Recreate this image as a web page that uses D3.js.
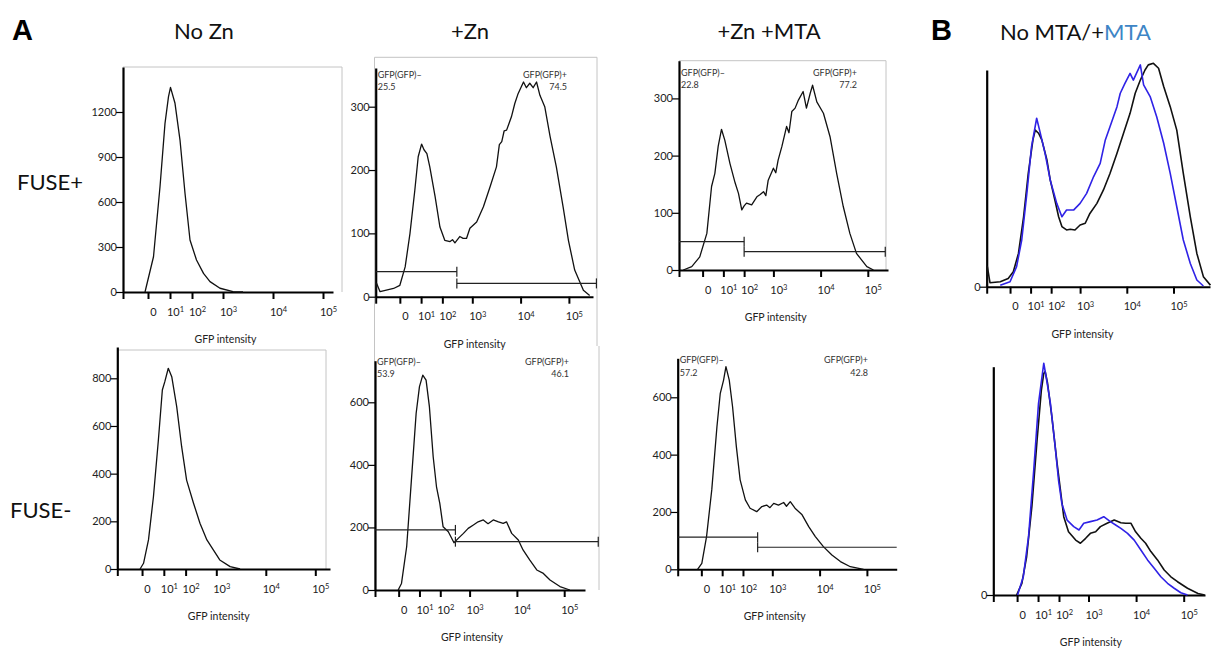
<!DOCTYPE html>
<html><head><meta charset="utf-8">
<script src="https://cdnjs.cloudflare.com/ajax/libs/d3/7.8.5/d3.min.js"></script>
<style>body{margin:0;background:#fff}svg{display:block}</style>
</head><body>
<svg id="c" width="1211" height="648"></svg>
<script>
// ---------- data ----------
const tickPositions = [0, 0.5, 0.94, 1.38, 2, 3, 4];        // display units (biexponential)
const tickLabels = ["", "0", "10¹", "10²", "10³", "10⁴", "10⁵"];
const columnTitles = ["No Zn", "+Zn", "+Zn +MTA"];
const rowLabels = ["FUSE+", "FUSE-"];
const panelLetters = ["A", "B"];
const titleB = ["No MTA/+", "MTA"];
const axisTitle = "GFP intensity";
const gateNames = ["GFP(GFP)\u2013", "GFP(GFP)+"];

// [display unit, count]
const fusePlusNoZn = [[0.44,0],[0.61,235],[0.74,702],[0.84,1124],[0.91,1302],[0.95,1364],[1.04,1258],[1.14,1013],[1.24,658],[1.34,347],[1.47,213],[1.61,124],[1.74,69],[1.94,25],[2.2,2],[2.4,0]];
const fusePlusZn = [[0,10],[0.02,21],[0.09,8],[0.37,13],[0.5,18],[0.61,47],[0.71,100],[0.81,168],[0.88,221],[0.95,241],[1.0,232],[1.06,226],[1.12,205],[1.23,158],[1.33,110],[1.43,89],[1.54,87],[1.59,90],[1.64,85],[1.74,95],[1.81,92],[1.88,92],[1.95,108],[2.09,118],[2.23,142],[2.37,174],[2.5,205],[2.56,240],[2.61,245],[2.66,262],[2.71,263],[2.81,284],[2.88,305],[2.95,321],[3.06,339],[3.12,330],[3.19,337],[3.26,330],[3.33,339],[3.4,318],[3.5,300],[3.61,253],[3.74,205],[3.88,142],[3.99,89],[4.12,42],[4.3,10],[4.43,2]];
const fusePlusZnMta = [[0.09,0],[0.27,6],[0.44,23],[0.59,64],[0.69,146],[0.76,169],[0.83,216],[0.9,246],[0.97,227],[1.08,186],[1.19,152],[1.26,134],[1.33,105],[1.38,112],[1.43,117],[1.54,114],[1.65,128],[1.72,132],[1.79,137],[1.84,130],[1.89,157],[2.0,178],[2.05,170],[2.1,192],[2.18,216],[2.28,251],[2.33,240],[2.39,277],[2.46,283],[2.53,297],[2.63,312],[2.7,283],[2.78,309],[2.83,323],[2.92,294],[3.06,274],[3.2,233],[3.34,169],[3.48,111],[3.62,64],[3.76,29],[3.98,6],[4.12,0]];
const fuseMinusNoZn = [[0.46,0],[0.53,24],[0.63,122],[0.73,303],[0.83,541],[0.91,751],[0.96,786],[1.03,842],[1.1,807],[1.2,681],[1.3,513],[1.4,373],[1.54,276],[1.67,192],[1.81,122],[1.94,80],[2.07,38],[2.28,10],[2.48,0]];
const fuseMinusZn = [[0.49,0],[0.56,21],[0.67,139],[0.77,352],[0.87,565],[0.94,650],[1.01,687],[1.08,671],[1.15,586],[1.23,426],[1.3,330],[1.37,277],[1.44,202],[1.55,186],[1.67,151],[1.76,165],[1.87,181],[1.97,197],[2.08,208],[2.18,218],[2.29,224],[2.39,212],[2.5,224],[2.61,218],[2.71,213],[2.78,218],[2.89,181],[3.03,160],[3.13,128],[3.27,96],[3.42,64],[3.56,53],[3.7,32],[3.91,11],[4.12,0]];
const fuseMinusZnMta = [[0.42,0],[0.51,21],[0.61,114],[0.72,277],[0.83,498],[0.9,614],[0.97,660],[1.02,707],[1.09,660],[1.16,567],[1.24,428],[1.32,312],[1.43,242],[1.53,213],[1.67,201],[1.78,219],[1.88,224],[1.95,215],[2.03,230],[2.13,224],[2.24,233],[2.3,220],[2.38,236],[2.48,213],[2.63,190],[2.77,149],[2.91,114],[3.08,79],[3.26,50],[3.44,27],[3.65,9],[3.93,0]];
// panel B (normalised to mode, %)
const bTopNoMta = [[0,0],[0.014,9],[0.07,1.8],[0.29,2.2],[0.46,3.7],[0.57,6.7],[0.68,14.9],[0.79,31.3],[0.89,50.7],[0.99,65.7],[1.04,70.1],[1.11,68.7],[1.18,65.7],[1.29,56.7],[1.36,47.8],[1.46,38.8],[1.54,31.3],[1.61,26.9],[1.71,25.4],[1.79,25.7],[1.89,25.4],[2.0,27.6],[2.11,28.4],[2.21,32.8],[2.36,37.3],[2.5,43.3],[2.64,50.7],[2.79,59.7],[2.93,68.7],[3.07,77.6],[3.18,86.6],[3.29,92.5],[3.39,97],[3.46,99.3],[3.57,100],[3.68,97.8],[3.79,89.6],[3.93,80.6],[4.07,70.1],[4.21,50.7],[4.36,31.3],[4.5,14.9],[4.64,4.5],[4.79,0.7]];
const bTopMta = [[0.29,0.7],[0.5,2.2],[0.64,9],[0.75,20.9],[0.86,41.8],[0.96,62.7],[1.07,75.4],[1.14,69.4],[1.25,59.7],[1.36,47.8],[1.5,37.3],[1.61,31.3],[1.71,34.3],[1.86,34.3],[2.0,37.3],[2.14,41.8],[2.29,49.3],[2.43,55.2],[2.54,65.7],[2.64,71.6],[2.79,80.6],[2.86,86.6],[2.96,91],[3.07,95.5],[3.14,92.5],[3.29,99.3],[3.36,90.3],[3.5,85.1],[3.64,76.1],[3.79,64.2],[3.93,50.7],[4.07,35.8],[4.21,20.9],[4.36,10.4],[4.5,3],[4.64,0.3]];
const bBottomNoMta = [[0.49,0],[0.6,5.2],[0.7,17],[0.81,39.3],[0.92,68.9],[1.01,91.1],[1.06,98.5],[1.09,99.3],[1.14,94.1],[1.23,79.3],[1.34,58.5],[1.41,46.7],[1.48,34.8],[1.58,28.1],[1.73,24.4],[1.83,23],[1.94,25.2],[2.04,27.4],[2.15,28.1],[2.25,30.4],[2.39,31.9],[2.54,33.3],[2.68,32.1],[2.78,31.9],[2.89,31.9],[2.99,28.1],[3.1,25.2],[3.2,23],[3.31,19.3],[3.45,15.6],[3.59,11.1],[3.73,8.1],[3.87,5.9],[4.08,3],[4.3,0.7],[4.44,0]];
const bBottomMta = [[0.51,0],[0.63,8.1],[0.74,25.9],[0.85,55.6],[0.95,85.2],[1.06,103],[1.11,97],[1.2,85.2],[1.3,65.9],[1.37,51.1],[1.44,40.7],[1.55,33.3],[1.69,30.4],[1.8,28.9],[1.9,31.9],[2.04,32.6],[2.18,33.3],[2.32,34.8],[2.46,32.6],[2.57,31.1],[2.68,29.6],[2.82,27.4],[2.96,24.4],[3.1,20],[3.24,15.6],[3.38,11.9],[3.52,8.1],[3.66,5.2],[3.8,3],[3.94,1],[4.08,0]];

// gates: [split (display units), right end, left-gate level, right-gate level]
const gatesZn = [1.68, 4.57, 39.5, 21];
const gatesZnMta = [1.38, 4.37, 49.5, 32];
const gatesMinusZn = [1.7, 4.72, 192, 154.5];
const gatesMinusZnMta = [1.69, 4.63, 112, 77];
const gatePercents = {p2:["25.5","74.5"], p3:["22.8","77.2"], p6:["53.9","46.1"], p7:["57.2","42.8"]};

// ---------- layout ----------
const BLUE = "#2f22e6";
const panels = [
  {id:"p1", x0:123, dec:50, xEnd:333, base:292, yRef:[1200,112], top:67, yTicks:[0,300,600,900,1200], frame:[123,67,342,292,"tr"], series:[[fusePlusNoZn,"#111"]]},
  {id:"p2", x0:375.7, dec:48.3, xEnd:593, base:296.7, yRef:[300,106.7], top:68, yTicks:[0,100,200,300], frame:[374.5,57.3,597,346,"tlr"], series:[[fusePlusZn,"#111"]], gates:gatesZn, lab:[75,87,567]},
  {id:"p3", x0:679, dec:47.2, xEnd:888, base:270, yRef:[300,98.4], top:60.7, yTicks:[0,100,200,300], frame:[679,60.7,886,270,"tr"], series:[[fusePlusZnMta,"#111"]], gates:gatesZnMta, lab:[73,85,857]},
  {id:"p4", x0:986.7, dec:46.7, xEnd:1210, base:286.7, yRef:[100,63.3], top:70, yTicks:[0], series:[[bTopNoMta,"#111"],[bTopMta,BLUE]], wide:true},
  {id:"p5", x0:117.3, dec:49.5, xEnd:330, base:569, yRef:[800,378.3], top:347, yTicks:[0,200,400,600,800], frame:[117.3,350,326,569,"tr"], series:[[fuseMinusNoZn,"#111"]]},
  {id:"p6", x0:375, dec:47.3, xEnd:585, base:590, yRef:[600,402.3], top:360.7, yTicks:[0,200,400,600], frame:[374.5,346,599,590,"lr"], series:[[fuseMinusZn,"#111"]], gates:gatesMinusZn, lab:[362,374,569]},
  {id:"p7", x0:677.7, dec:47.3, xEnd:896.7, base:569.3, yRef:[600,397.3], top:358.3, yTicks:[0,200,400,600], series:[[fuseMinusZnMta,"#111"]], gates:gatesMinusZnMta, lab:[360,373,868], openEnd:true},
  {id:"p8", x0:993.3, dec:47.6, xEnd:1205, base:595, yRef:[100,370], top:366.7, yTicks:[0], series:[[bBottomNoMta,"#111"],[bBottomMta,BLUE]], wide:true}
];

const svg = d3.select("#c");
const FONT = "Lato, 'Open Sans', 'Noto Sans', sans-serif";
const supDigits = {"¹":"1","²":"2","³":"3","⁴":"4","⁵":"5"};

panels.forEach(p => {
  const g = svg.append("g");
  const x = d3.scaleLinear().domain([0, (p.xEnd - p.x0) / p.dec]).range([p.x0, p.xEnd]);
  const ppu = (p.base - p.yRef[1]) / p.yRef[0];
  const y = d3.scaleLinear().domain([0, (p.base - p.top) / ppu]).range([p.base, p.top]);

  if (p.frame) {
    const [l,t,r,b,sides] = p.frame;
    const segs = {t:[l,t,r,t], l:[l,t,l,b], r:[r,t,r,b], b:[l,b,r,b]};
    sides.split("").forEach(s => {
      const [x1,y1,x2,y2] = segs[s];
      g.append("line").attr("x1",x1).attr("y1",y1).attr("x2",x2).attr("y2",y2)
        .attr("stroke","#c4c4c4").attr("stroke-width",1);
    });
  }

  // x axis
  const xa = g.append("g").attr("transform", `translate(0,${p.base})`)
    .call(d3.axisBottom(x).tickValues(tickPositions).tickFormat((d, i) => tickLabels[i])
      .tickSize(7).tickSizeOuter(0).tickPadding(9));
  xa.select(".domain").attr("stroke", "#000").attr("stroke-width", 2);
  xa.selectAll(".tick line").attr("stroke", "#000").attr("stroke-width", 2);
  xa.selectAll(".tick text").attr("font-family", FONT).attr("font-size", 11).attr("fill", "#222").attr("dx", 5)
    .each(function() {
      const s = d3.select(this), txt = s.text();
      const m = txt.match(/^10(.)$/);
      if (m) {
        s.text("");
        s.append("tspan").text("10");
        s.append("tspan").attr("font-size", 7.5).attr("dy", "-0.45em").text(supDigits[m[1]]);
      }
    });

  // y axis
  const ya = g.append("g").attr("transform", `translate(${p.x0},0)`)
    .call(d3.axisLeft(y).tickValues(p.yTicks).tickFormat(d3.format("d")).tickSize(7).tickSizeOuter(0).tickPadding(-1));
  ya.select(".domain").attr("stroke", "#000").attr("stroke-width", 2.2);
  ya.selectAll(".tick line").attr("stroke", "#000").attr("stroke-width", 1.2);
  ya.selectAll(".tick text").attr("font-family", FONT).attr("font-size", 11).attr("fill", "#222");

  // axis title
  g.append("text").attr("x", x(2.05)).attr("y", p.base + 51).attr("text-anchor", "middle")
    .attr("font-family", FONT).attr("font-size", 10.5).attr("fill", "#222").text(axisTitle);

  // curves
  const line = d3.line().x(d => x(d[0])).y(d => y(d[1]));
  p.series.forEach(([data, col]) => {
    g.append("path").datum(data).attr("d", line).attr("fill", "none")
      .attr("stroke", col).attr("stroke-width", p.wide ? 1.6 : 1.3).attr("stroke-linejoin", "round");
  });

  // gates
  if (p.gates) {
    const [split, end, lv, rv] = p.gates;
    const gs = [[0, split, lv], [split, end, rv]];
    gs.forEach(([a, b, v], i) => {
      g.append("line").attr("x1", x(a)).attr("x2", x(b)).attr("y1", y(v)).attr("y2", y(v))
        .attr("stroke", "#222").attr("stroke-width", 1.2);
      [a, b].forEach((c, j) => {
        if (i === 0 && j === 0) return;
        if (i === 1 && j === 1 && p.openEnd) return;
        g.append("line").attr("x1", x(c)).attr("x2", x(c)).attr("y1", y(v) - 5).attr("y2", y(v) + 5)
          .attr("stroke", "#222").attr("stroke-width", 1.2);
      });
    });
    const pc = gatePercents[p.id];
    const t = g.append("g").attr("font-family", FONT).attr("font-size", 9).attr("fill", "#333");
    t.append("text").attr("x", p.x0 + 2).attr("y", p.lab[0] + 3).text(gateNames[0]);
    t.append("text").attr("x", p.x0 + 2).attr("y", p.lab[1] + 3).text(pc[0]);
    t.append("text").attr("x", p.lab[2]).attr("y", p.lab[0] + 3).attr("text-anchor", "end").text(gateNames[1]);
    t.append("text").attr("x", p.lab[2]).attr("y", p.lab[1] + 3).attr("text-anchor", "end").text(pc[1]);
  }
});

// titles and labels
const titleX = [204, 470, 769];
columnTitles.forEach((t, i) => {
  svg.append("text").attr("x", titleX[i]).attr("y", 39).attr("text-anchor", "middle")
    .attr("font-family", FONT).attr("font-size", 22).attr("fill", "#111").text(t);
});
const tb = svg.append("text").attr("x", 1000).attr("y", 40).attr("font-family", FONT).attr("font-size", 22).attr("fill", "#111");
tb.append("tspan").text(titleB[0]);
tb.append("tspan").attr("fill", "#3d85c6").text(titleB[1]);

const rowY = [190, 518];
rowLabels.forEach((t, i) => {
  svg.append("text").attr("x", i === 0 ? 17 : 10).attr("y", rowY[i])
    .attr("font-family", FONT).attr("font-size", 22).attr("fill", "#111").text(t);
});
const letterX = [12, 931];
panelLetters.forEach((t, i) => {
  svg.append("text").attr("x", letterX[i]).attr("y", 40)
    .attr("font-family", "'Liberation Sans', Arial, sans-serif").attr("font-weight", "bold")
    .attr("font-size", 29).attr("fill", "#000").text(t);
});
</script>
</body></html>
